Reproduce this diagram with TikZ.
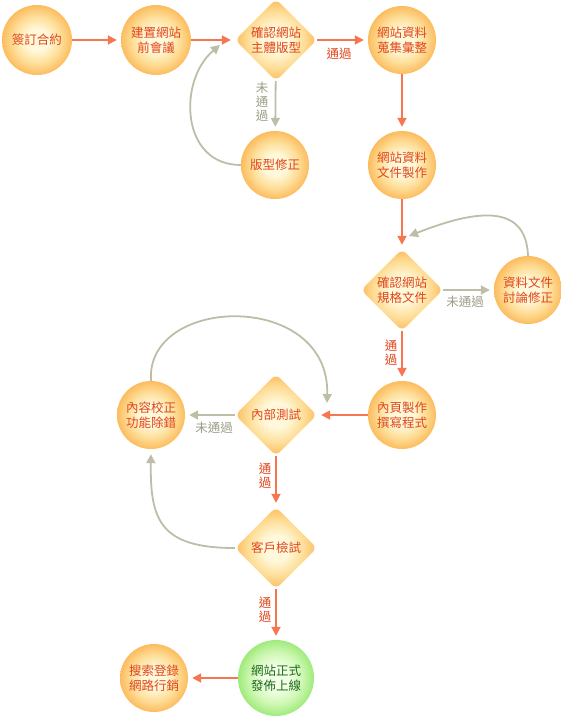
\documentclass[tikz,border=0pt]{standalone}
\usepackage{fontspec}
\newfontfamily\cjk{Noto Sans CJK TC}
\usetikzlibrary{shapes.geometric,arrows.meta}
\definecolor{okc}{HTML}{F5764F}
\definecolor{noc}{HTML}{BDBDA8}
\definecolor{txtc}{HTML}{E0461C}
\definecolor{notxt}{HTML}{9C9C88}
\definecolor{inorange}{HTML}{FFF8DA}
\definecolor{midorange}{HTML}{FEDE98}
\definecolor{outorange}{HTML}{FCBC5E}
\definecolor{ingreen}{HTML}{F2FFE6}
\definecolor{midgreen}{HTML}{CFF8B4}
\definecolor{outgreen}{HTML}{A0EA7C}
\definecolor{greentxt}{HTML}{1E6A1E}
\pgfdeclareradialshading{orangeball}{\pgfpoint{0bp}{0bp}}{color(0bp)=(inorange); color(8bp)=(inorange); color(17bp)=(midorange); color(25bp)=(outorange); color(50bp)=(outorange)}
\pgfdeclareradialshading{greenball}{\pgfpoint{0bp}{0bp}}{color(0bp)=(ingreen); color(8bp)=(ingreen); color(17bp)=(midgreen); color(25bp)=(outgreen); color(50bp)=(outgreen)}
\tikzset{
  proc/.style={circle, minimum size=68pt, inner sep=0pt, align=center,
    shading=orangeball,
    text=txtc, font=\cjk\fontsize{12.5}{15}\selectfont},
  bigproc/.style={proc, minimum size=70pt},
  greenproc/.style={proc, minimum size=76pt, shading=greenball, text=greentxt},
  dec/.style={diamond, aspect=1, minimum width=82pt, minimum height=82pt, inner sep=0pt,
    align=center, rounded corners=6pt,
    shading=orangeball,
    text=txtc, font=\cjk\fontsize{12.5}{15}\selectfont},
  okarrow/.style={draw=okc, line width=1.8pt, -{Triangle[width=9pt,length=9pt]}, shorten >=4pt},
  noarrow/.style={draw=noc, line width=1.8pt, -{Triangle[width=9pt,length=9pt]}, shorten >=4pt},
  oklabel/.style={text=txtc, font=\cjk\fontsize{12.5}{14}\selectfont, align=center, inner sep=0pt},
  nolabel/.style={text=notxt, font=\cjk\fontsize{12.5}{14}\selectfont, align=center, inner sep=0pt},
}
\begin{document}
\begin{tikzpicture}[x=1pt,y=-1pt]
\useasboundingbox (0,0) rectangle (561,717);
% nodes
\node[bigproc] (sign) at (37,40) {簽訂合約};
\node[bigproc] (meet) at (156,40) {建置網站\\前會議};
\node[dec] (layout) at (276,40) {確認網站\\主體版型};
\node[proc] (collect) at (402,40) {網站資料\\蒐集彙整};
\node[proc] (fixlayout) at (275,165) {版型修正};
\node[proc] (docmake) at (402,165) {網站資料\\文件製作};
\node[dec] (spec) at (402,290) {確認網站\\規格文件};
\node[proc] (discuss) at (528,290) {資料文件\\討論修正};
\node[proc] (code) at (402,415) {內頁製作\\撰寫程式};
\node[dec] (test) at (276,415) {內部測試};
\node[proc] (debug) at (151,415) {內容校正\\功能除錯};
\node[dec] (client) at (276,548) {客戶檢試};
\node[greenproc] (launch) at (276,678) {網站正式\\發佈上線};
\node[proc] (seo) at (154,678) {搜索登錄\\網路行銷};
% free ends
\coordinate (l1end) at (220,45);
\coordinate (l2end) at (409,236);
\coordinate (l3end) at (327,403);
% main flow
\draw[okarrow] (sign) -- (meet);
\draw[okarrow] (meet) -- (layout);
\draw[okarrow] (layout) -- (collect);
\draw[okarrow] (collect) -- (docmake);
\draw[okarrow] (docmake) -- (spec);
\draw[okarrow] (spec) -- (code);
\draw[okarrow] (code) -- (test);
\draw[okarrow] (test) -- (client);
\draw[okarrow] (client) -- (launch);
\draw[okarrow] (launch) -- (seo);
% failure paths
\draw[noarrow] (layout) -- (fixlayout);
\draw[noarrow] (spec) -- (discuss);
\draw[noarrow] (test) -- (debug);
% loops
\draw[noarrow, shorten >=0pt] (fixlayout.west) .. controls (180,165) and (178,80) .. (l1end);
\draw[noarrow, shorten >=0pt] (discuss.north) .. controls (526,200) and (470,212) .. (l2end);
\draw[noarrow, shorten >=0pt] (debug.north) .. controls (145,295) and (330,290) .. (l3end);
\draw[noarrow, shorten >=5pt] (client.west) .. controls (160,548) and (150,520) .. (debug.south);
% labels
\node[oklabel] (lbl1) at (339,54) {通過};
\node[nolabel] (lbl2) at (262,102) {未\\通\\過};
\node[nolabel] (lbl3) at (465,302) {未通過};
\node[oklabel] (lbl4) at (391,353) {通\\過};
\node[nolabel] (lbl5) at (214,428) {未通過};
\node[oklabel] (lbl6) at (265,476) {通\\過};
\node[oklabel] (lbl7) at (265,610) {通\\過};
\end{tikzpicture}
\end{document}
